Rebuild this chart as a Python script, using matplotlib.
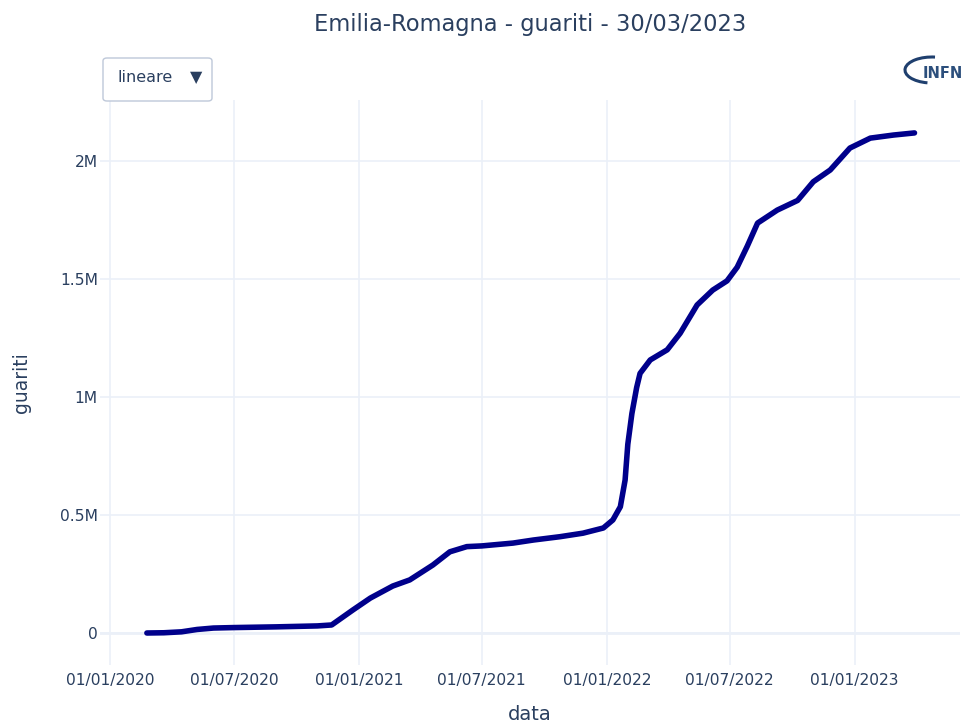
"""Emilia-Romagna - cumulative recovered (guariti) over time."""

import matplotlib
matplotlib.use("Agg")
import matplotlib.pyplot as plt
import matplotlib.dates as mdates
import pandas as pd
from matplotlib.patches import FancyBboxPatch, Arc
from matplotlib.ticker import FuncFormatter

# values (guariti, millions)
dates = [
    "2020-02-24", "2020-03-20", "2020-04-15", "2020-05-08", "2020-06-01",
    "2020-07-01", "2020-09-01", "2020-11-01", "2020-11-22", "2020-12-23",
    "2021-01-18", "2021-02-20", "2021-03-17", "2021-04-20", "2021-05-15",
    "2021-06-09", "2021-07-01", "2021-08-16", "2021-09-15", "2021-10-24",
    "2021-11-27", "2021-12-27", "2022-01-10", "2022-01-21", "2022-01-28",
    "2022-02-01", "2022-02-07", "2022-02-14", "2022-02-19", "2022-03-06",
    "2022-03-31", "2022-04-19", "2022-05-14", "2022-06-06", "2022-06-27",
    "2022-07-12", "2022-07-27", "2022-08-11", "2022-09-09", "2022-10-09",
    "2022-11-01", "2022-11-26", "2022-12-25", "2023-01-24", "2023-02-27",
    "2023-03-30",
]
guariti_m = [
    0.000, 0.001, 0.005, 0.015, 0.021,
    0.023, 0.026, 0.030, 0.034, 0.097,
    0.148, 0.199, 0.225, 0.288, 0.344,
    0.366, 0.369, 0.381, 0.394, 0.408,
    0.423, 0.445, 0.479, 0.535, 0.648,
    0.800, 0.930, 1.040, 1.100, 1.157,
    1.200, 1.270, 1.390, 1.453, 1.492,
    1.550, 1.640, 1.737, 1.792, 1.833,
    1.912, 1.962, 2.055, 2.097, 2.110,
    2.119,
]
xtick_dates = ["2020-01-01", "2020-07-01", "2021-01-01", "2021-07-01",
               "2022-01-01", "2022-07-01", "2023-01-01"]
ytick_values = [0, 500000, 1000000, 1500000, 2000000]

TEXT = "#2a3f5f"
GRID = "#ebf0f8"
LINE = "#00008b"

W, H = 965, 728
fig = plt.figure(figsize=(W / 100, H / 100), dpi=100)
fig.patch.set_facecolor("white")

# plot area in pixels: x 100..960, y 100..665
ax = fig.add_axes([100 / W, 1 - 665 / H, 860 / W, 565 / H])
ax.set_facecolor("white")

x = pd.to_datetime(dates)
y = [v * 1e6 for v in guariti_m]
ax.plot(x, y, color=LINE, lw=4.0, solid_capstyle="round", solid_joinstyle="round", zorder=3)

ax.set_xlim(pd.Timestamp("2019-12-17"), pd.Timestamp("2023-06-05"))
ax.set_ylim(-0.1356e6, 2.2585e6)

ax.set_xticks(pd.to_datetime(xtick_dates))
ax.xaxis.set_major_formatter(mdates.DateFormatter("%d/%m/%Y"))
ax.set_yticks(ytick_values)


def fmt_m(v, _pos):
    if v == 0:
        return "0"
    return f"{v / 1e6:g}M"


ax.yaxis.set_major_formatter(FuncFormatter(fmt_m))

ax.grid(True, color=GRID, lw=1.2, zorder=0)
ax.axhline(0, color=GRID, lw=2, zorder=1)
for sp in ax.spines.values():
    sp.set_visible(False)
ax.tick_params(axis="both", length=0, colors=TEXT, labelsize=11.2)
ax.tick_params(axis="x", pad=6)
ax.tick_params(axis="y", pad=1.5)

fig.text(530 / W, 1 - 25 / H, "Emilia-Romagna - guariti - 30/03/2023",
         ha="center", va="center", color=TEXT, fontsize=16.3)
fig.text(530 / W, 1 - 714 / H, "data", ha="center", va="center", color=TEXT, fontsize=14)
fig.text(22 / W, 1 - 383 / H, "guariti", ha="center", va="center", rotation=90,
         color=TEXT, fontsize=13.5)

# dropdown button
box = FancyBboxPatch((103 / W, 1 - 101 / H), 109 / W, 43 / H,
                     boxstyle="round,pad=0,rounding_size=0.004",
                     transform=fig.transFigure, facecolor="white",
                     edgecolor="#bec8d9", lw=1)
fig.add_artist(box)
fig.text(145 / W, 1 - 78 / H, "lineare", ha="center", va="center", color=TEXT, fontsize=11.5)
fig.text(196 / W, 1 - 78 / H, "\u25bc", ha="center", va="center", color=TEXT, fontsize=11.5)

# INFN logo
arc = Arc((932 / W, 1 - 70 / H), 54 / W, 26 / H, theta1=80, theta2=255,
          transform=fig.transFigure, color="#1f3f6e", lw=2.2)
fig.add_artist(arc)
fig.text(943 / W, 1 - 74 / H, "INFN", ha="center", va="center", color="#2c4f7c",
         fontsize=10.5, fontweight="semibold")

fig.savefig("out.png", dpi=100)
plt.close(fig)
